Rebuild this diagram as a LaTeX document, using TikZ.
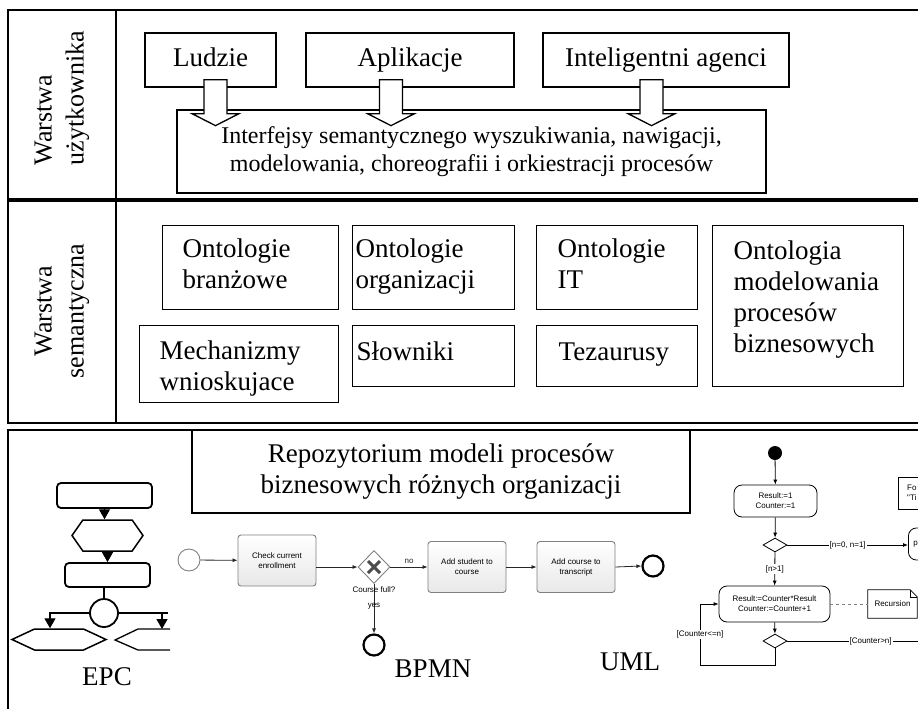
\documentclass[tikz,border=0pt]{standalone}
\usepackage{fontspec}
\setmainfont{Liberation Serif}
\newfontfamily\diagsans{Liberation Sans}
\usetikzlibrary{arrows.meta,calc,positioning,shapes.geometric,shapes.symbols}
\newcommand{\boxfont}{\fontsize{27}{31}\selectfont}
\newcommand{\midfont}{\fontsize{24}{28}\selectfont}
\newcommand{\sidefont}{\fontsize{26}{32}\selectfont}
\newcommand{\smallsans}{\diagsans\fontsize{8}{10}\selectfont}

\begin{document}
\begin{tikzpicture}[x=1pt, y=-1pt,
  frame/.style={line width=1.6pt},
  box/.style={draw, line width=1.3pt, inner sep=0pt, font=\boxfont},
  namebox/.style={box, text height=19pt, text depth=6pt, minimum height=54},
  onto/.style={draw, line width=1.3pt, font=\boxfont, align=left, anchor=north west, inner ysep=0pt, text height=19pt, text depth=39pt},
  blockarrow/.style={draw, fill=white, line width=1.3pt},
  epcfunc/.style={draw, rounded corners=4pt, line width=1.8pt, inner sep=0pt},
  epcevent/.style={signal, signal to=west and east, draw, line width=1.5pt, inner sep=0pt},
  epcline/.style={line width=1.3pt},
  epcarrow/.style={line width=1.3pt, -{Triangle[length=10pt,width=11pt]}},
  task/.style={draw=gray, rounded corners=3pt, line width=0.9pt, top color=white, bottom color=gray!18, font=\smallsans, align=center, minimum width=78, minimum height=51, inner sep=0pt},
  flow/.style={gray!30!black, line width=0.8pt, -{Latex[length=5pt,width=4pt]}},
  umlact/.style={draw, rounded corners=8pt, line width=0.8pt, font=\smallsans, align=center, inner sep=0pt},
  umldec/.style={diamond, draw, line width=0.8pt, aspect=1.7, minimum width=24, minimum height=14, inner sep=0pt},
  ctrl/.style={line width=0.8pt, -{Latex[length=5pt,width=4pt]}},
  guard/.style={font=\smallsans, fill=white, inner sep=1pt}]
\useasboundingbox (0,0) rectangle (918,709);
\clip (0,0) rectangle (918,709);

% three layers
\draw[frame] (930,10) -- (8,10) -- (8,199) -- (930,199);
\draw[frame] (116,10) -- (116,199);
\draw[frame] (930,201) -- (8,201) -- (8,423) -- (930,423);
\draw[frame] (116,201) -- (116,423);
\draw[frame] (930,430) -- (8,430) -- (8,720);

\node[rotate=90, align=left, font=\sidefont] (userlbl) at (62,98) {Warstwa\\użytkownika};
\node[rotate=90, align=center, font=\sidefont] (semlbl) at (62,311) {Warstwa\\semantyczna};

% user layer
\node[namebox, minimum width=131] (ludzie) at (210.5,60) {Ludzie};
\node[namebox, minimum width=208] (aplik) at (410,60) {Aplikacje};
\node[namebox, minimum width=246] (agenci) at (666,60) {Inteligentni agenci};
\node[box, font=\midfont, align=center, minimum width=589, minimum height=83] (interf) at (471.5,151.5)
  {Interfejsy semantycznego wyszukiwania, nawigacji,\\modelowania, choreografii i orkiestracji procesów};
\foreach \src/\dx in {ludzie/5, aplik/-19, agenci/-14.5}
  \draw[blockarrow] ($(\src.south)+(\dx-11.5,-8)$) -- ++(23,0) -- ++(0,34) -- ++(12,0)
    -- ++(-23.5,12) -- ++(-23.5,-12) -- ++(12,0) -- cycle;

% semantic layer
\node[onto, inner xsep=20pt, text width=136, minimum height=84] (branz) at (162,225) {Ontologie\\branżowe};
\node[onto, inner xsep=3pt, text width=156, minimum height=84] (org) at (352,225) {Ontologie\\organizacji};
\node[onto, inner xsep=21pt, text width=119, minimum height=84] (ontit) at (536,225) {Ontologie\\IT};
\node[onto, inner xsep=21pt, text width=149, minimum height=161, text depth=112pt] (model) at (712,225) {Ontologia\\modelowania\\procesów\\biznesowych};
\node[onto, inner xsep=20pt, text width=159, minimum height=77, text depth=28pt] (mech) at (139,325) {Mechanizmy\\wnioskujace};
\node[onto, inner xsep=4pt, text width=154, minimum height=61, text depth=11pt] (slown) at (352,325) {Słowniki};
\node[onto, inner xsep=22pt, text width=117, minimum height=61, text depth=11pt] (tez) at (536,325) {Tezaurusy};

% repository layer
\node[box, align=center, minimum width=498, minimum height=83] (repo) at (441,471.5)
  {Repozytorium modeli procesów\\biznesowych różnych organizacji};

% EPC
\node[epcfunc, minimum width=95, minimum height=25] (f1) at (104.5,495.5) {};
\node[epcevent, signal pointer angle=110, minimum width=71, minimum height=31] (e1) at (107.5,535.5) {};
\node[epcfunc, minimum width=85, minimum height=24] (f2) at (107.5,575) {};
\node[circle, draw, line width=1.8pt, minimum size=28, inner sep=0pt] (xor) at (104,613) {};
\node[epcevent, signal pointer angle=50, minimum width=94, minimum height=21] (e2) at (59,639.5) {};
\draw[epcline] (170,629) -- (138,629) -- (115,640) -- (138,650) -- (170,650);
\coordinate (e3top) at (162,629);
\draw[epcarrow] (f1.south) -- (f1.south |- e1.north);
\draw[epcarrow] (e1.south) -- (e1.south |- f2.north);
\draw[epcline] (xor.north |- f2.south) -- (xor.north);
\draw[epcarrow] (xor.west) -| ($(e2.north)+(-9,0)$);
\draw[epcline] (xor.east) -- (e3top |- xor.east) -- ++(6,0);
\draw[epcarrow] (e3top |- xor.east) -- (e3top);
\node[font=\boxfont] (epc) at (107,677) {EPC};

% BPMN
\node[circle, draw=gray, line width=0.9pt, minimum size=22, inner sep=0pt] (bstart) at (189,560) {};
\node[task] (check) at (277,560.5) {Check current\\enrollment};
\node[diamond, draw=gray, line width=0.9pt, minimum width=32, minimum height=33, inner sep=0pt] (gw) at (374,567) {};
\node[task] (addst) at (467,567) {Add student to\\course};
\node[task] (addcr) at (576,567) {Add course to\\transcript};
\node[circle, draw, line width=2.2pt, minimum size=21, inner sep=0pt] (bend) at (653,566) {};
\node[circle, draw, line width=2.2pt, minimum size=21, inner sep=0pt] (bfull) at (374,645) {};
\draw[line width=3pt, gray!60!black] ($(gw)+(-6,-6)$) -- ($(gw)+(6,6)$) ($(gw)+(-6,6)$) -- ($(gw)+(6,-6)$);
\draw[flow] (bstart) -- (check);
\draw[flow] (check.east |- gw.west) -- (gw.west);
\draw[flow] (gw.east) -- node[above, font=\smallsans] {no} (addst.west |- gw.east);
\draw[flow] (addst) -- (addcr);
\draw[flow] (addcr.east) -- (bend.west);
\draw[flow] (gw.south) -- (bfull.north);
\node[font=\smallsans] (gwlbl) at (374,590) {Course full?};
\node[font=\smallsans] (yeslbl) at (374,606) {yes};
\node[font=\boxfont] (bpmn) at (433,669) {BPMN};

% UML
\node[circle, fill=black, minimum size=14, inner sep=0pt] (init) at (775,453) {};
\node[umlact, minimum width=83, minimum height=32] (act1) at (775.5,501) {Result:=1\\Counter:=1};
\node[umldec] (dec1) at (775,545) {};
\node[umlact, anchor=west, minimum height=32, inner xsep=5pt, text width=30, align=left] (prnt) at (908,544) {p};
\node[umlact, minimum width=111, minimum height=36] (act2) at (774.5,604) {Result:=Counter*Result\\Counter:=Counter+1};
\node[umldec] (dec2) at (775,641) {};
\node[font=\smallsans, minimum width=49, minimum height=28, inner sep=0pt] (recnote) at (892.5,604) {Recursion};
\draw[line width=0.8pt] (recnote.north west) -- ($(recnote.north east)+(-7,0)$) -- ($(recnote.north east)+(0,7)$)
  -- (recnote.south east) -- (recnote.south west) -- cycle;
\draw[line width=0.6pt] ($(recnote.north east)+(-7,0)$) -- ($(recnote.north east)+(-7,7)$) -- ($(recnote.north east)+(0,7)$);
\node[font=\smallsans, anchor=north west, minimum height=32, inner xsep=9pt, inner ysep=0pt, text width=30, align=left] (fonote) at (898,477) {Fo\\"Ti};
\draw[line width=0.8pt] (fonote.north east) -- (fonote.north west) -- (fonote.south west) -- (fonote.south east);
\draw[ctrl] (init) -- (act1);
\draw[ctrl] (act1) -- (dec1);
\draw[ctrl] (dec1) -- node[guard] {[n>1]} (act2);
\draw[ctrl] (dec1.east) -- node[guard] {[n=0, n=1]} (dec1.east -| prnt.west);
\draw[gray, line width=0.8pt, dash pattern=on 3pt off 3pt] (act2.east) -- (recnote.west);
\draw[ctrl] (act2) -- (dec2);
\draw[line width=0.8pt] (dec2.east) -- node[guard, pos=0.52] {[Counter>n]} ++(160,0);
\draw[ctrl] (dec2.south) -- ++(0,17) -- ++(-75,0) |- node[guard, pos=0.25] {[Counter<=n]} (act2.west);
\node[font=\boxfont] (uml) at (630,662) {UML};
\end{tikzpicture}
\end{document}
